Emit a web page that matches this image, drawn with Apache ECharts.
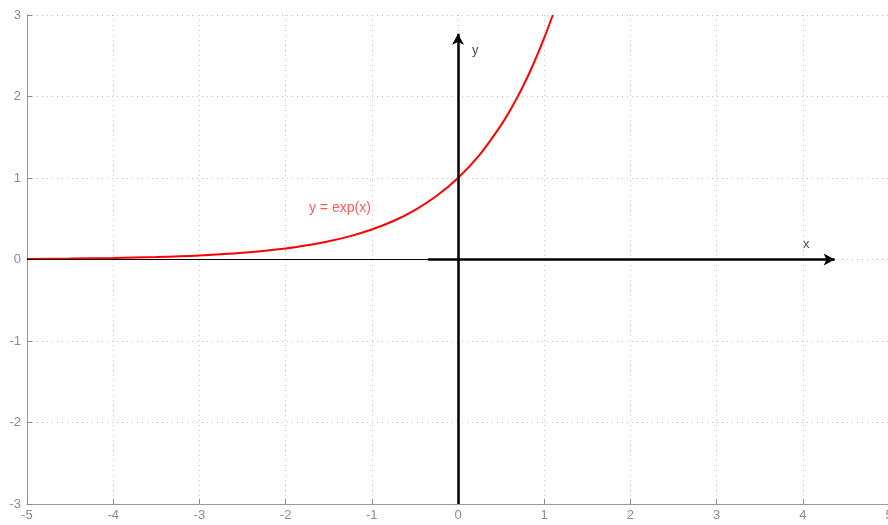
<!DOCTYPE html>
<html><head><meta charset="utf-8">
<script src="https://cdn.jsdelivr.net/npm/echarts@6/dist/echarts.min.js"></script>
<style>html,body{margin:0;padding:0;background:#fff}#c{width:888px;height:525px}</style>
</head><body><div id="c"></div>
<script>
const xTicks = [-5,-4,-3,-2,-1,0,1,2,3,4,5];
const yTicks = [-3,-2,-1,0,1,2,3];
const curveX = [-5,-4.5,-4,-3.5,-3,-2.5,-2,-1.75,-1.5,-1.25,-1,-0.75,-0.5,-0.25,0,0.25,0.5,0.625,0.75,0.875,1,1.1];
const curveY = [0.0067,0.011,0.018,0.030,0.050,0.082,0.135,0.174,0.223,0.287,0.368,0.472,0.607,0.779,1.0,1.284,1.649,1.868,2.117,2.399,2.718,3.0];
const curveName = 'y = exp(x)';
const xArrow = [-0.35, 4.37];
const yArrow = [-3, 2.77];

const chart = echarts.init(document.getElementById('c'));
const gray = '#8c8c8c';
const axisCommon = {
  type: 'value',
  interval: 1,
  axisLine: {show: true, onZero: false, lineStyle: {color: '#999', width: 1}},
  axisTick: {show: true, inside: true, length: 5, lineStyle: {color: '#888'}},
  splitLine: {show: true, lineStyle: {color: '#c0c0c0', type: [1, 4], width: 1}},
  axisLabel: {color: gray, fontFamily: 'Liberation Sans, Arial', fontSize: 13}
};
chart.setOption({
  animation: false,
  grid: {left: 27, width: 862, top: 15, bottom: 21, containLabel: false, outerBoundsMode: 'none'},
  xAxis: Object.assign({}, axisCommon, {min: xTicks[0], max: xTicks[xTicks.length-1],
    axisLabel: Object.assign({}, axisCommon.axisLabel, {margin: 5, showMaxLabel: true})}),
  yAxis: Object.assign({}, axisCommon, {min: yTicks[0], max: yTicks[yTicks.length-1],
    axisLabel: Object.assign({}, axisCommon.axisLabel, {margin: 6})}),
  series: [
    {
      type: 'line', name: 'axes', data: [], silent: true,
      markLine: {
        silent: true, animation: false, label: {show: false},
        data: [
          [{coord: [xTicks[0], 0], symbol: 'none', lineStyle: {color: '#000', width: 1, type: 'solid'}},
           {coord: [xArrow[0], 0], symbol: 'none'}],
          [{coord: [xArrow[0], 0], symbol: 'none', lineStyle: {color: '#000', width: 2.5, type: 'solid'}},
           {coord: [xArrow[1], 0], symbol: 'arrow', symbolSize: [9, 11]}],
          [{coord: [0, yArrow[0]], symbol: 'none', lineStyle: {color: '#000', width: 2.5, type: 'solid'}},
           {coord: [0, yArrow[1]], symbol: 'arrow', symbolSize: [9, 11]}]
        ]
      }
    },
    {
      type: 'line', name: curveName, smooth: 0.3, showSymbol: false, clip: true,
      data: curveX.map((x, i) => [x, curveY[i]]),
      lineStyle: {color: '#ff0000', width: 2}, itemStyle: {color: '#ff0000'}, z: 3
    },
    {
      type: 'scatter', symbolSize: 0, silent: true,
      data: [
        {value: [-1.37, 0.63], label: {show: true, formatter: curveName, color: '#ff3030', fontSize: 14, position: 'inside'}},
        {value: [4.04, 0.19], label: {show: true, formatter: 'x', color: '#222', fontSize: 13, position: 'inside'}},
        {value: [0.2, 2.57], label: {show: true, formatter: 'y', color: '#222', fontSize: 13, position: 'inside'}}
      ],
      label: {fontFamily: 'Liberation Sans, Arial'}
    }
  ]
});
</script></body></html>
